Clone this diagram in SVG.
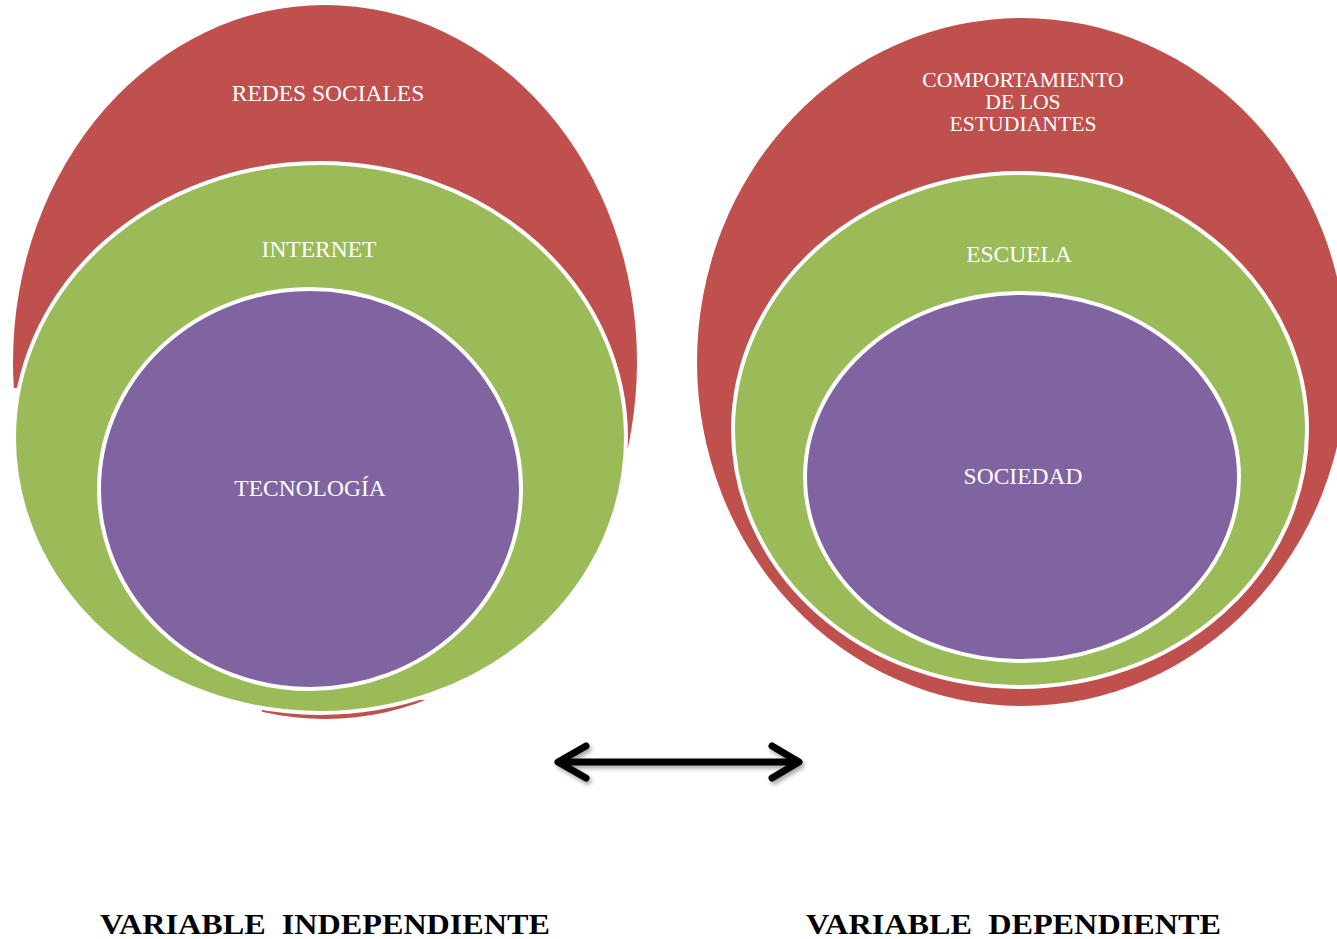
<svg xmlns="http://www.w3.org/2000/svg" width="1337" height="939" viewBox="0 0 1337 939">
<style>
.red{fill:#C0504D}
.green{fill:#9BBB59;stroke:#fff;stroke-width:4}
.purple{fill:#8064A2;stroke:#fff;stroke-width:4}
.lbl{font-family:"Liberation Serif","Times New Roman",serif;font-size:23.5px;fill:#fff;text-anchor:middle}
.sm{font-size:21.7px}
.var{font-family:"Liberation Serif","Times New Roman",serif;font-size:29px;font-weight:bold;fill:#000;white-space:pre}
</style>
<defs>
<clipPath id="redclip">
<rect x="0" y="0" width="325" height="388"/>
<rect x="325" y="0" width="400" height="448"/>
<rect x="262" y="700" width="180" height="30"/>
</clipPath>
<filter id="sh" x="-10%" y="-50%" width="120%" height="200%">
<feDropShadow dx="2" dy="3" stdDeviation="2" flood-color="#000" flood-opacity="0.35"/>
</filter>
</defs>
<g id="left-red">
<ellipse class="red" cx="325" cy="362" rx="312" ry="357" clip-path="url(#redclip)"/>
<text class="lbl" x="328" y="101">REDES SOCIALES</text>
</g>
<g id="left-green">
<ellipse class="green" cx="320" cy="438" rx="306" ry="275"/>
<text class="lbl" x="319" y="257">INTERNET</text>
</g>
<g id="left-purple">
<ellipse class="purple" cx="310" cy="489" rx="211" ry="200"/>
<text class="lbl" x="310" y="496">TECNOLOGÍA</text>
</g>
<g id="right-red">
<ellipse class="red" cx="1022" cy="362" rx="325" ry="344"/>
<text class="lbl sm" x="1023" y="87">COMPORTAMIENTO</text>
<text class="lbl sm" x="1023" y="109">DE LOS</text>
<text class="lbl sm" x="1023" y="131">ESTUDIANTES</text>
</g>
<g id="right-green">
<ellipse class="green" cx="1020" cy="430" rx="287" ry="257"/>
<text class="lbl" x="1019" y="262">ESCUELA</text>
</g>
<g id="right-purple">
<ellipse class="purple" cx="1022" cy="477" rx="217" ry="184"/>
<text class="lbl" x="1023" y="484">SOCIEDAD</text>
</g>
<g id="connectors" filter="url(#sh)" stroke="#000" stroke-width="7" fill="none" stroke-linecap="round" stroke-linejoin="round">
<line x1="560" y1="762" x2="797" y2="762"/>
<polyline points="586,746 558,762 586,778"/>
<polyline points="772,746 799,762 772,778"/>
</g>
<g id="labels">
<text class="var" x="100" y="934" textLength="450" lengthAdjust="spacingAndGlyphs">VARIABLE  INDEPENDIENTE</text>
<text class="var" x="806" y="934" textLength="415" lengthAdjust="spacingAndGlyphs">VARIABLE  DEPENDIENTE</text>
</g>
</svg>
